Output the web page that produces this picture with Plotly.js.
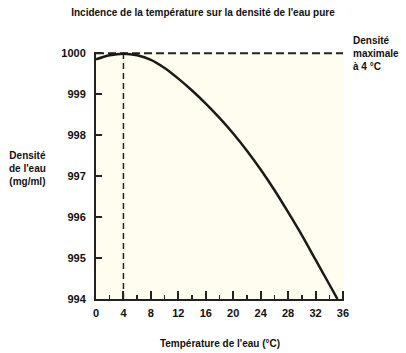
<!DOCTYPE html>
<html>
<head>
<meta charset="utf-8">
<script src="https://cdn.plot.ly/plotly-3.0.1.min.js"></script>
<style>html,body{margin:0;padding:0;background:#fff;}#chart{width:406px;height:353px;}</style>
</head>
<body>
<div id="chart"></div>
<script>
// Temperature (°C) and water density (mg/ml)
const temperature = [0, 2, 4, 6, 8, 10, 12, 14, 16, 18, 20, 22, 24, 26, 28, 30, 32, 34, 35.2];
const density = [999.85, 999.95, 999.99, 999.95, 999.84, 999.64, 999.38, 999.09, 998.77, 998.42, 998.04, 997.62, 997.16, 996.66, 996.12, 995.56, 994.96, 994.36, 994.0];

// Maximum density reference lines
const maxLineTemp = [0, 36];
const maxLineDensity = [1000, 1000];
const maxTempLineX = [4, 4];
const maxTempLineY = [994, 1000];

const xTickVals = [0, 4, 8, 12, 16, 20, 24, 28, 32, 36];
const yTickVals = [994, 995, 996, 997, 998, 999, 1000];

const FONT = '"Liberation Sans", Arial, Helvetica, sans-serif';

const traces = [
  {x: maxLineTemp, y: maxLineDensity, mode: 'lines', line: {color: '#222', width: 2, dash: '8px,4px'}, hoverinfo: 'skip'},
  {x: maxTempLineX, y: maxTempLineY, mode: 'lines', line: {color: '#222', width: 1.5, dash: '6px,4px'}, hoverinfo: 'skip'},
  {x: temperature, y: density, mode: 'lines', line: {color: '#1c1a16', width: 2.5, shape: 'spline', smoothing: 1}}
];

const layout = {
  width: 406, height: 353,
  margin: {l: 96, r: 62, t: 52, b: 54},
  paper_bgcolor: '#ffffff',
  plot_bgcolor: '#fffdf0',
  showlegend: false,
  font: {family: FONT, color: '#111', size: 11},
  title: {text: "<b>Incidence de la température sur la densité de l'eau pure</b>", x: 0.5, xanchor: 'center', y: 0.965, yanchor: 'middle', font: {family: FONT, size: 10, color: '#111'}},
  xaxis: {
    range: [0, 36.15], tickvals: xTickVals, ticktext: xTickVals.map(v => '<b>' + v + '</b>'),
    ticks: 'inside', ticklen: 8, tickwidth: 2, tickcolor: '#222',
    minor: {dtick: 2, tick0: 0, ticks: 'inside', ticklen: 4, tickwidth: 1.5, tickcolor: '#222', showgrid: false},
    showline: true, linecolor: '#222', linewidth: 2, showgrid: false, zeroline: false,
    tickfont: {family: FONT, size: 11, color: '#111'}, ticklabelstandoff: 3,
    title: {text: "<b>Température de l'eau (°C)</b>", font: {family: FONT, size: 10, color: '#111'}, standoff: 22},
    fixedrange: true
  },
  yaxis: {
    range: [994, 1000.03], tickvals: yTickVals, ticktext: yTickVals.map(v => '<b>' + v + '</b>'),
    ticks: 'inside', ticklen: 6, tickwidth: 2, tickcolor: '#222',
    showline: true, linecolor: '#222', linewidth: 2, showgrid: false, zeroline: false,
    tickfont: {family: FONT, size: 11, color: '#111'}, ticklabelstandoff: 6,
    fixedrange: true
  },
  annotations: [
    {text: '<b>Densité<br>maximale<br>à 4 °C</b>', xref: 'paper', yref: 'paper', x: 1.03, y: 1.075, xanchor: 'left', yanchor: 'top', align: 'left', showarrow: false, font: {family: FONT, size: 10, color: '#111'}},
    {text: "<b>Densité<br>de l'eau<br>(mg/ml)</b>", xref: 'paper', yref: 'paper', x: -0.275, y: 0.53, xanchor: 'center', yanchor: 'middle', align: 'center', showarrow: false, font: {family: FONT, size: 10, color: '#111'}}
  ]
};

Plotly.newPlot('chart', traces, layout, {displayModeBar: false, staticPlot: true});
</script>
</body>
</html>
